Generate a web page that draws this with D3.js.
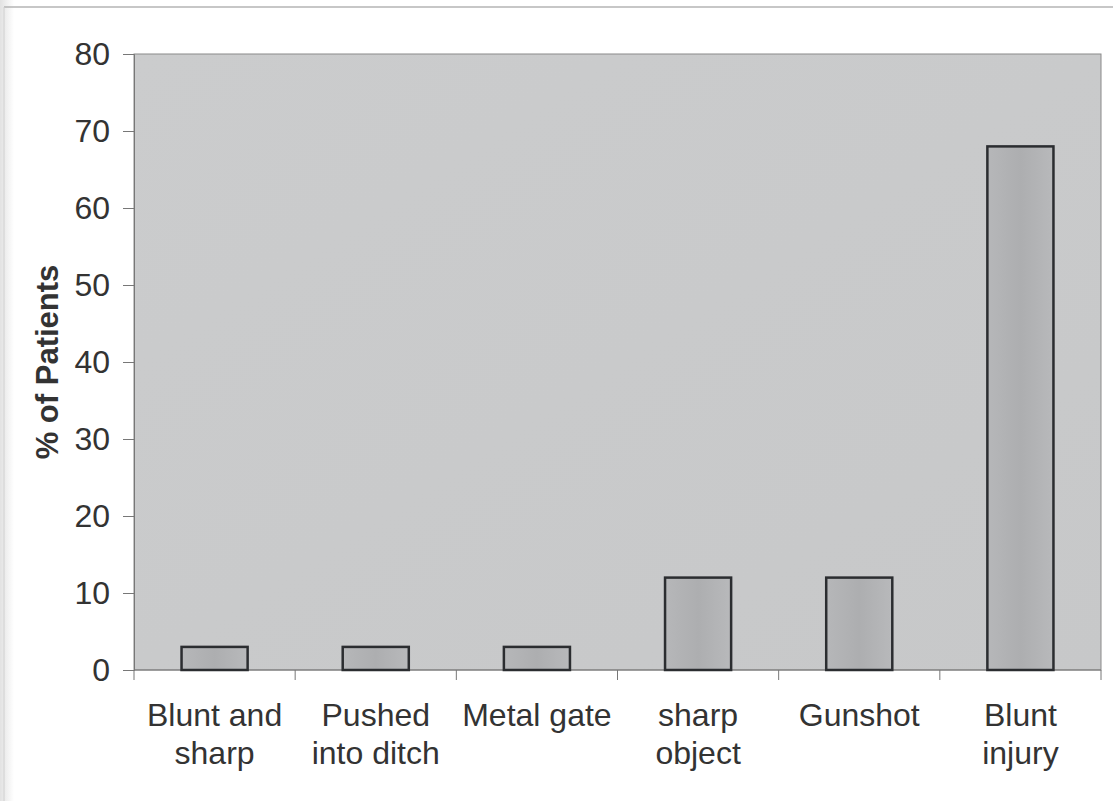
<!DOCTYPE html>
<html><head><meta charset="utf-8">
<script src="https://cdn.jsdelivr.net/npm/d3@7"></script>
<style>body{margin:0;background:#fff;}svg{display:block;font-family:"Liberation Sans",Arial,sans-serif;}</style>
</head><body>
<svg id="c" width="1113" height="801"></svg>
<script>
const categories = [["Blunt and","sharp"],["Pushed","into ditch"],["Metal gate"],["sharp","object"],["Gunshot"],["Blunt","injury"]];
const values = [3, 3, 3, 12, 12, 68];
const yTicks = [0,10,20,30,40,50,60,70,80];
const yLabel = "% of Patients";

const svg = d3.select("#c");
const m = {l:134, r:1101, t:54, b:670};
const x = d3.scaleBand().domain(d3.range(categories.length)).range([m.l, m.r]).paddingInner(0).paddingOuter(0);
const y = d3.scaleLinear().domain([0,80]).range([m.b, m.t]);

// frame
const lg = svg.append("defs").append("linearGradient").attr("id","edge").attr("x1","0").attr("x2","1");
lg.append("stop").attr("offset","0").attr("stop-color","#e2e2e2");
lg.append("stop").attr("offset","1").attr("stop-color","#ffffff");
svg.append("rect").attr("x",0).attr("y",0).attr("width",14).attr("height",801).attr("fill","url(#edge)");
svg.append("line").attr("x1",4).attr("x2",1113).attr("y1",7).attr("y2",7).attr("stroke","#b5b5b5").attr("stroke-width",1.5);
svg.append("line").attr("x1",4).attr("x2",4).attr("y1",7).attr("y2",801).attr("stroke","#d0d0d0").attr("stroke-width",1);

const defs = svg.select("defs");
const g1 = defs.append("linearGradient").attr("id","bg").attr("x1","0").attr("y1","0").attr("x2","1").attr("y2","1");
g1.append("stop").attr("offset","0").attr("stop-color","#cbcccd");
g1.append("stop").attr("offset","1").attr("stop-color","#c7c8c9");
const g2 = defs.append("linearGradient").attr("id","bar").attr("x1","0").attr("y1","0").attr("x2","1").attr("y2","0");
g2.append("stop").attr("offset","0").attr("stop-color","#b6b7b9");
g2.append("stop").attr("offset","0.5").attr("stop-color","#adaeb0");
g2.append("stop").attr("offset","1").attr("stop-color","#b8b9bb");

svg.append("rect").attr("x",m.l).attr("y",m.t).attr("width",m.r-m.l).attr("height",m.b-m.t)
  .attr("fill","url(#bg)").attr("stroke","#8a8a8a").attr("stroke-width",1);

// y axis
const ya = svg.append("g").attr("transform",`translate(${m.l},0)`)
  .call(d3.axisLeft(y).tickValues(yTicks).tickSize(11).tickPadding(13));
ya.select(".domain").attr("stroke","#777");
ya.selectAll(".tick line").attr("stroke","#777");
ya.selectAll("text").attr("font-size",32).attr("fill","#333").attr("font-family","Liberation Sans, Arial, sans-serif");

// x axis ticks at band boundaries
const bounds = d3.range(categories.length+1).map(i => m.l + i*x.bandwidth());
svg.append("line").attr("x1",m.l).attr("x2",m.r).attr("y1",m.b).attr("y2",m.b).attr("stroke","#777");
svg.selectAll(".xt").data(bounds).enter().append("line")
  .attr("x1",d=>d).attr("x2",d=>d).attr("y1",m.b).attr("y2",m.b+10).attr("stroke","#777");

// bars
const bw = x.bandwidth()*0.41;
svg.selectAll(".bar").data(values).enter().append("rect")
  .attr("x",(d,i)=>x(i)+x.bandwidth()/2-bw/2).attr("width",bw)
  .attr("y",d=>y(d)).attr("height",d=>y(0)-y(d))
  .attr("fill","url(#bar)").attr("stroke","#2b2d30").attr("stroke-width",2.5);

// x labels
categories.forEach((lines,i)=>{
  const t = svg.append("text").attr("x",x(i)+x.bandwidth()/2).attr("y",726)
    .attr("text-anchor","middle").attr("font-size",32).attr("fill","#333");
  lines.forEach((l,j)=>t.append("tspan").attr("x",x(i)+x.bandwidth()/2).attr("dy",j?38:0).text(l));
});

// y label
svg.append("text").attr("transform",`translate(58,${(m.t+m.b)/2}) rotate(-90)`)
  .attr("text-anchor","middle").attr("font-size",31).attr("font-weight","bold").attr("fill","#333").text(yLabel);
</script>
</body></html>
